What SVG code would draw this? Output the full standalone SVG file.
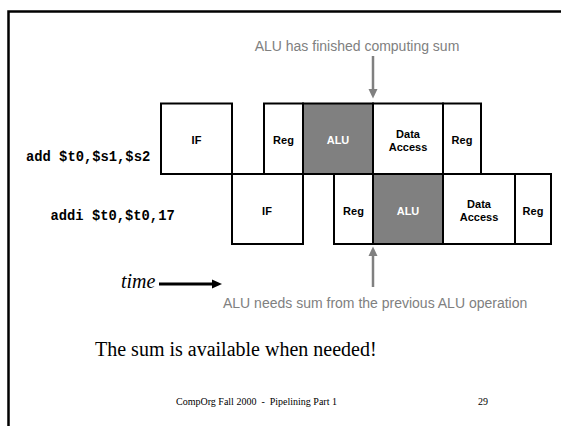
<svg xmlns="http://www.w3.org/2000/svg" width="561" height="426" viewBox="0 0 561 426">
<style>
.box{fill:#fff;stroke:#000;stroke-width:2}
.alu{fill:#808080;stroke:#000;stroke-width:2}
.lbl{font-family:"Liberation Sans",Arial,sans-serif;font-weight:bold;font-size:11px;fill:#000;text-anchor:middle}
.wl{fill:#fff}
.instr{font-family:"Liberation Mono","Courier New",monospace;font-weight:bold;font-size:13.8px;fill:#000}
.note{font-family:"Liberation Sans",Arial,sans-serif;font-size:14px;fill:#808080}
.serif{font-family:"Liberation Serif","Times New Roman",serif;fill:#000}
.garrow{stroke:#808080;stroke-width:2.5;fill:none}
</style>
<rect width="561" height="426" fill="#fff"/>
<rect id="frame" x="8.5" y="11.5" width="600" height="500" fill="none" stroke="#000" stroke-width="2.5"/>

<g id="labels">
<text class="instr" x="26" y="161">add $t0,$s1,$s2</text>
<text class="instr" x="50.5" y="219.5">addi $t0,$t0,17</text>
</g>

<g id="row1">
<g id="r1-if"><rect class="box" x="161" y="103.5" width="71" height="70.5"/><text class="lbl" x="196.5" y="144">IF</text></g>
<g id="r1-reg"><rect class="box" x="264" y="103.5" width="39" height="70.5"/><text class="lbl" x="283.5" y="144">Reg</text></g>
<g id="r1-alu"><rect class="alu" x="303" y="103.5" width="70" height="70.5"/><text class="lbl wl" x="338" y="144">ALU</text></g>
<g id="r1-da"><rect class="box" x="373" y="103.5" width="70" height="70.5"/><text class="lbl" x="408" y="137.5">Data</text><text class="lbl" x="408" y="151">Access</text></g>
<g id="r1-wb"><rect class="box" x="443" y="103.5" width="38" height="70.5"/><text class="lbl" x="462" y="144">Reg</text></g>
</g>

<g id="row2">
<g id="r2-if"><rect class="box" x="232" y="174" width="71" height="70"/><text class="lbl" x="267" y="214.5">IF</text></g>
<g id="r2-reg"><rect class="box" x="334" y="174" width="39" height="70"/><text class="lbl" x="353.5" y="214.5">Reg</text></g>
<g id="r2-alu"><rect class="alu" x="373" y="174" width="70" height="70"/><text class="lbl wl" x="408" y="214.5">ALU</text></g>
<g id="r2-da"><rect class="box" x="443" y="174" width="72" height="70"/><text class="lbl" x="479" y="207.5">Data</text><text class="lbl" x="479" y="221">Access</text></g>
<g id="r2-wb"><rect class="box" x="515" y="174" width="36" height="70"/><text class="lbl" x="533" y="214.5">Reg</text></g>
</g>

<g id="connectors">
<line class="garrow" x1="373" y1="56" x2="373" y2="90"/>
<polygon points="368.5,89 377.5,89 373,98.5" fill="#808080"/>
<line class="garrow" x1="373" y1="287" x2="373" y2="255"/>
<polygon points="368.5,256 377.5,256 373,246.5" fill="#808080"/>
<line x1="159" y1="284" x2="214" y2="284" stroke="#000" stroke-width="2.8"/>
<polygon points="212,279.5 222,284 212,288.5" fill="#000"/>
</g>

<g id="notes">
<text class="note" x="357" y="50.5" text-anchor="middle">ALU has finished computing sum</text>
<text class="note" x="223" y="308">ALU needs sum from the previous ALU operation</text>
<text class="serif" x="121" y="288" font-size="20" font-style="italic">time</text>
<text class="serif" x="95" y="356" font-size="20">The sum is available when needed!</text>
<text class="serif" x="176" y="405" font-size="10" style="white-space:pre">CompOrg Fall 2000  -  Pipelining Part 1</text>
<text class="serif" x="478" y="405" font-size="10">29</text>
</g>
</svg>
